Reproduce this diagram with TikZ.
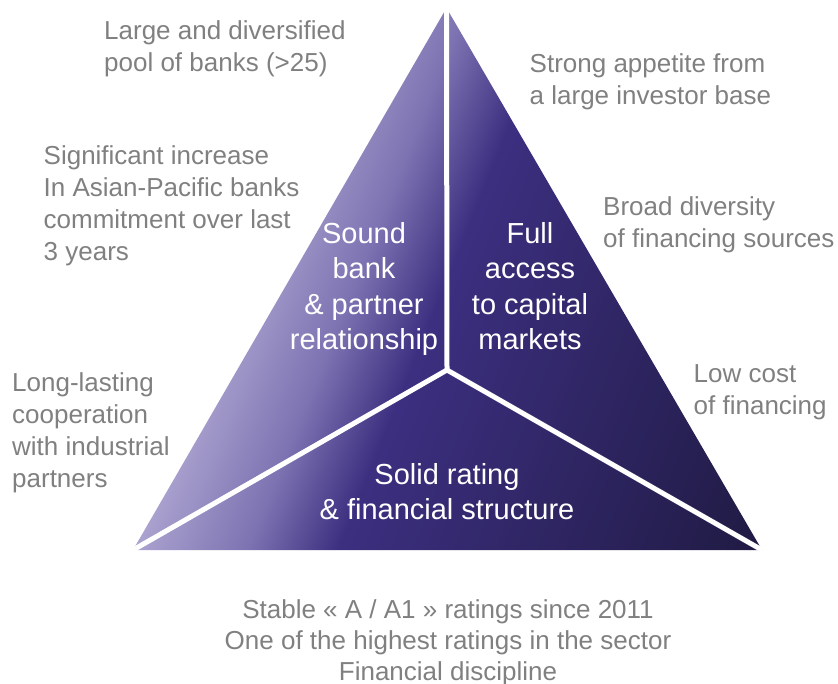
\documentclass[tikz,border=0pt]{standalone}
\usepackage{fontspec}
\setmainfont{Liberation Sans}
\definecolor{lavend}{RGB}{178,170,212}
\definecolor{lilac}{RGB}{125,115,178}
\definecolor{royal}{RGB}{60,47,128}
\definecolor{navyd}{RGB}{32,27,68}
\definecolor{notegray}{RGB}{128,128,128}
\pgfdeclarehorizontalshading{pillarshade}{100bp}{color(0bp)=(lavend); color(33bp)=(lavend); color(43bp)=(lilac); color(50bp)=(royal); color(82bp)=(navyd); color(100bp)=(navyd)}

\begin{document}
\begin{tikzpicture}[x=1pt,y=-1pt,
  note/.style={text=notegray,font=\fontsize{26}{32}\selectfont,align=left,anchor=north west,inner sep=0pt},
  pillar/.style={text=white,font=\fontsize{29}{35.5}\selectfont,align=center,anchor=north,inner sep=0pt},
  split/.style={white,line width=5pt}]
  \useasboundingbox (0,0) rectangle (838,684);

  % Triangle
  \coordinate (top) at (446.5,8);
  \coordinate (botleft) at (133,550);
  \coordinate (botright) at (762,550);
  \coordinate (hub) at (447,370);
  \shade[shading=pillarshade,shading angle=-22] (top) -- (botleft) -- (botright) -- cycle;

  % Dividers
  \draw[split] (hub) -- (top);
  \draw[split] (hub) -- (botleft);
  \draw[split] (hub) -- (botright);

  % Pillars
  \node[pillar] (bank) at (364,222) {Sound\\bank\\\& partner\\relationship};
  \node[pillar] (market) at (530,222) {Full\\access\\to capital\\markets};
  \node[pillar] (rating) at (447,463) {Solid rating\\\& financial structure};

  % Notes left
  \node[note] (pool) at (104,20.5) {Large and diversified\\pool of banks (>25)};
  \node[note] (asia) at (43.5,145.5) {Significant increase\\In Asian-Pacific banks\\commitment over last\\3 years};
  \node[note] (coop) at (12,372) {Long-lasting\\cooperation\\with industrial\\partners};

  % Notes right
  \node[note] (appetite) at (529.5,53) {Strong appetite from\\a large investor base};
  \node[note] (sources) at (603,196) {Broad diversity\\of financing sources};
  \node[note] (cost) at (693.5,364) {Low cost\\of financing};

  % Note below
  \node[note,align=center,anchor=north,font=\fontsize{26}{31}\selectfont] (stable) at (448,599)
    {Stable « A / A1 » ratings since 2011\\One of the highest ratings in the sector\\Financial discipline};
\end{tikzpicture}
\end{document}
